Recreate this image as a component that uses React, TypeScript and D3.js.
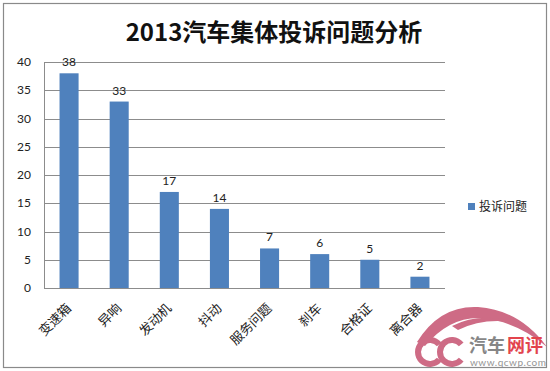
import React from 'react';
import * as d3 from 'd3';

// chart values
const categories = ['变速箱', '异响', '发动机', '抖动', '服务问题', '刹车', '合格证', '离合器'];
const complaints = [38, 33, 17, 14, 7, 6, 5, 2];
const yTicks = [0, 5, 10, 15, 20, 25, 30, 35, 40];
const seriesName = '投诉问题';
const title = '2013汽车集体投诉问题分析';

const W = 550;
const H = 371;
const plot = { left: 44, right: 445, top: 62, bottom: 288 };
const barColor = '#4f81bd';
const latin = 'Lato, "Open Sans", sans-serif';
const cjk = '"Noto Sans CJK SC", sans-serif';
const pink = '#c95c78';

// "C" arc of the watermark logo, open on the right
const cArc = d3.arc()({ innerRadius: 9, outerRadius: 15, startAngle: Math.PI * 0.72, endAngle: Math.PI * 2.28 }) ?? '';

const App: React.FC = () => {
  const x = d3.scaleBand<string>()
    .domain(categories)
    .range([plot.left, plot.right])
    .paddingInner(0.62)
    .paddingOuter(0.31);

  const y = d3.scaleLinear()
    .domain([0, 40])
    .range([plot.bottom, plot.top]);

  return (
    <svg width={W} height={H} style={{ position: 'absolute', left: 0, top: 0, background: '#fff' }}>
      {/* chart frame */}
      <rect x={3.5} y={3.5} width={543} height={364} fill="#fff" stroke="#8a8a8a" strokeWidth={1.2} />

      <text x={274} y={41} textAnchor="middle" fontFamily={cjk} fontWeight="bold" fontSize={24} fill="#111">
        {title}
      </text>

      {/* gridlines */}
      {yTicks.map((t) => (
        <line key={t} x1={plot.left} x2={plot.right} y1={Math.round(y(t)) + 0.5} y2={Math.round(y(t)) + 0.5}
          stroke="#8c8c8c" strokeWidth={1} />
      ))}
      <line x1={plot.left + 0.5} x2={plot.left + 0.5} y1={plot.top} y2={plot.bottom} stroke="#8c8c8c" />

      {/* y tick labels */}
      {yTicks.map((t) => (
        <text key={t} x={31} y={y(t) + 4} textAnchor="end" fontFamily={latin} fontSize={12} fill="#222">
          {t}
        </text>
      ))}

      {/* bars + data labels */}
      {categories.map((c, i) => (
        <g key={c}>
          <rect x={x(c)} y={y(complaints[i])} width={x.bandwidth()} height={y(0) - y(complaints[i])} fill={barColor} />
          <text x={(x(c) ?? 0) + x.bandwidth() / 2} y={y(complaints[i]) - 7} textAnchor="middle"
            fontFamily={latin} fontSize={12} fill="#222">
            {complaints[i]}
          </text>
        </g>
      ))}

      {/* category labels, rotated */}
      {categories.map((c) => {
        const cx = (x(c) ?? 0) + x.bandwidth() / 2 + 3;
        const cy = plot.bottom + 21;
        return (
          <text key={c} transform={`translate(${cx},${cy}) rotate(-45)`} textAnchor="end"
            fontFamily={cjk} fontSize={13} fill="#222">
            {c}
          </text>
        );
      })}

      {/* legend */}
      <rect x={468} y={203} width={7} height={7} fill={barColor} />
      <text x={479} y={211} fontFamily={cjk} fontSize={12} fill="#222">{seriesName}</text>

      {/* watermark */}
      <g opacity={0.9}>
        <path d="M 417 342 Q 440 305 478 307 Q 520 310 547 347 Q 518 322 482 318 Q 450 316 425 346 Z" fill={pink} />
        <path d="M 452 326 Q 480 312 512 322 Q 482 318 458 330 Z" fill={pink} />
        <path d={cArc} transform="translate(430,352)" fill={pink} />
        <path d={cArc} transform="translate(452,352)" fill={pink} />
        <text x={469} y={352} fontFamily={cjk} fontWeight="bold" fontSize={18} fill="#7a7a7a">汽车</text>
        <text x={507} y={352} fontFamily={cjk} fontWeight="bold" fontSize={18} fill="#e0303a">网评</text>
        <text x={470} y={366} fontFamily={latin} fontSize={10} fill="#8a8a8a" textLength={76}>www.qcwp.com</text>
      </g>
    </svg>
  );
};

export default App;
